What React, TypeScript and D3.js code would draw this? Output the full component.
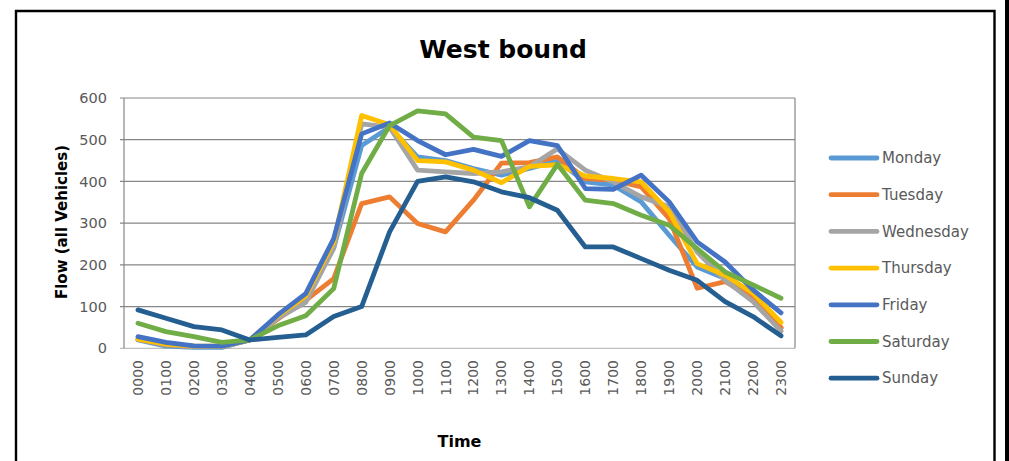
import React from "react";
import * as d3 from "d3";

const hours = ["0000","0100","0200","0300","0400","0500","0600","0700","0800","0900","1000","1100","1200","1300","1400","1500","1600","1700","1800","1900","2000","2100","2200","2300"];
const yTicks = [0, 100, 200, 300, 400, 500, 600];
const monday = [20, 5, 2, 2, 20, 75, 120, 240, 486, 530, 459, 450, 431, 415, 431, 450, 399, 391, 351, 271, 195, 167, 120, 48];
const tuesday = [22, 8, 4, 4, 20, 70, 115, 167, 347, 363, 299, 279, 355, 444, 445, 459, 407, 403, 387, 311, 144, 160, 120, 50];
const wednesday = [22, 8, 4, 4, 20, 72, 110, 240, 538, 530, 427, 423, 419, 423, 435, 478, 427, 399, 363, 339, 231, 163, 112, 41];
const thursday = [22, 10, 5, 5, 20, 78, 125, 255, 558, 536, 450, 447, 427, 397, 436, 440, 413, 407, 399, 327, 203, 175, 132, 62];
const friday = [28, 14, 6, 5, 20, 80, 131, 263, 514, 540, 498, 464, 477, 460, 498, 486, 383, 381, 415, 351, 255, 207, 140, 85];
const saturday = [60, 40, 28, 14, 20, 54, 78, 143, 419, 534, 569, 562, 506, 498, 339, 441, 355, 347, 319, 295, 239, 183, 152, 120];
const sunday = [92, 72, 52, 44, 20, 26, 32, 76, 100, 279, 400, 411, 399, 375, 361, 331, 243, 243, 215, 187, 163, 112, 76, 30];

const seriesNames = ["Monday", "Tuesday", "Wednesday", "Thursday", "Friday", "Saturday", "Sunday"];
const seriesValues = [monday, tuesday, wednesday, thursday, friday, saturday, sunday];
const seriesColors = ["#5B9BD5", "#ED7D31", "#A5A5A5", "#FFC000", "#4472C4", "#70AD47", "#255E91"];

const W = 1009, H = 461;
const plot = { left: 124, right: 795, top: 98, bottom: 348.3 };
const FONT = "'DejaVu Sans', sans-serif";

export default function App() {
  const x = d3.scaleBand<string>().domain(hours).range([plot.left, plot.right]);
  const y = d3.scaleLinear().domain([0, 600]).range([plot.bottom, plot.top]);
  const line = d3.line<number>()
    .x((_, i) => (x(hours[i]) as number) + x.bandwidth() / 2)
    .y((v) => y(v));

  return (
    <svg width={W} height={H} style={{ position: "absolute", left: 0, top: 0, background: "#fff" }} fontFamily={FONT}>
      <rect x={0} y={0} width={W} height={H} fill="#fff" />
      {/* outer frame */}
      <path d={`M16,${H + 5} L16,11 L994.5,11 L994.5,${H + 5}`} fill="none" stroke="#000" strokeWidth={2.4} />
      <rect x={1005} y={0} width={4} height={H} fill="#000" />

      <text x={503} y={58} textAnchor="middle" fontSize={25} fontWeight="bold" fill="#000">West bound</text>

      {/* gridlines */}
      {yTicks.map((t) => (
        <line key={t} x1={plot.left - 4} x2={plot.right} y1={y(t)} y2={y(t)}
          stroke={t === 0 ? "#bfbfbf" : "#868686"} strokeWidth={1.2} />
      ))}
      <line x1={plot.left} x2={plot.left} y1={plot.top} y2={plot.bottom} stroke="#868686" strokeWidth={1.2} />
      <line x1={plot.right} x2={plot.right} y1={plot.top} y2={plot.bottom} stroke="#868686" strokeWidth={1.2} />

      {/* y tick labels */}
      {yTicks.map((t) => (
        <text key={t} x={107} y={y(t)} dy="0.35em" textAnchor="end" fontSize={14.5} fill="#595959">{t}</text>
      ))}

      {/* x tick labels */}
      {hours.map((h) => {
        const cx = (x(h) as number) + x.bandwidth() / 2;
        return (
          <text key={h} transform={`translate(${cx + 5},360) rotate(-90)`} textAnchor="end" fontSize={14} fill="#595959">{h}</text>
        );
      })}

      {/* axis titles */}
      <text transform={`translate(67,222) rotate(-90)`} textAnchor="middle" fontSize={15} fontWeight="bold" fill="#000">Flow (all Vehicles)</text>
      <text x={(plot.left + plot.right) / 2} y={447} textAnchor="middle" fontSize={16} fontWeight="bold" fill="#000">Time</text>

      {/* series */}
      {seriesValues.map((vals, i) => (
        <path key={seriesNames[i]} d={line(vals) || ""} fill="none" stroke={seriesColors[i]}
          strokeWidth={4.8} strokeLinejoin="round" strokeLinecap="round" />
      ))}

      {/* legend */}
      {seriesNames.map((n, i) => {
        const ly = 158 + i * 36.7;
        return (
          <g key={n}>
            <line x1={831} x2={877} y1={ly} y2={ly} stroke={seriesColors[i]} strokeWidth={4.8} strokeLinecap="round" />
            <text x={882} y={ly} dy="0.35em" fontSize={15} fill="#595959">{n}</text>
          </g>
        );
      })}
    </svg>
  );
}
